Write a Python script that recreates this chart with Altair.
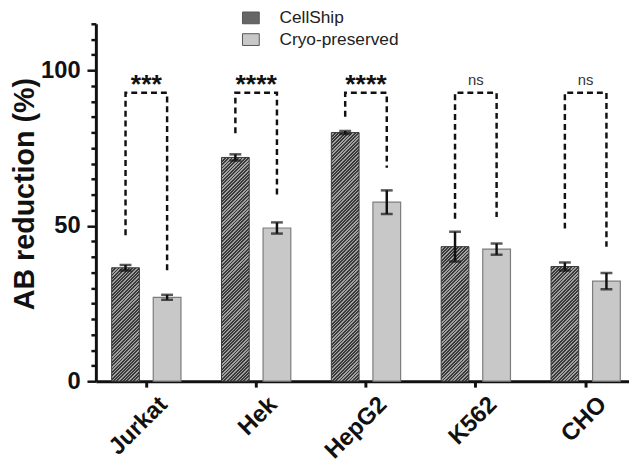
import altair as alt
import pandas as pd

# ---------------- data ----------------
cells = ["Jurkat", "Hek", "HepG2", "K562", "CHO"]
series = ["CellShip", "Cryo-preserved"]
cellship = [36.5, 72.0, 80.0, 43.3, 36.9]
cellship_err = [0.9, 1.0, 0.5, 4.8, 1.3]
cryo = [27.0, 49.3, 57.6, 42.5, 32.2]
cryo_err = [0.8, 1.8, 3.8, 1.8, 2.6]
sig_labels = ["***", "****", "****", "ns", "ns"]
bracket_top = 92.8
bracket_left = [47.0, 79.8, 85.1, 52.3, 49.1]
bracket_right = [34.8, 59.7, 68.7, 52.8, 43.3]
y_ticks = list(range(0, 116, 5))

# ---------------- layout / style ----------------
W, H = 540, 362
YMAX = 115
PI_X, PO_X, AL_X = 0.369, 0.1115, 0.645
PI_O = 0.333
FONT = "Liberation Sans"
INK = "#111111"

step_x = W / (len(cells) - PI_X + 2 * PO_X)
bw_x = step_x * (1 - PI_X)
step_o = bw_x / (2 - PI_O)
bar_w = step_o * (1 - PI_O)

rows = []
for c, v, e in zip(cells, cellship, cellship_err):
    rows.append(dict(cell=c, series=series[0], value=v, lo=v - e, hi=v + e))
for c, v, e in zip(cells, cryo, cryo_err):
    rows.append(dict(cell=c, series=series[1], value=v, lo=v - e, hi=v + e))
df = pd.DataFrame(rows)

br = []
for c, l, r in zip(cells, bracket_left, bracket_right):
    br += [dict(cell=c, series=series[0], val=l, ord=0),
           dict(cell=c, series=series[0], val=bracket_top, ord=1),
           dict(cell=c, series=series[1], val=bracket_top, ord=2),
           dict(cell=c, series=series[1], val=r, ord=3)]
br_df = pd.DataFrame(br)

sig_df = pd.DataFrame(dict(cell=cells, label=sig_labels))


def hatch(v, period=3.4, dark="#3a3a3a", light="#a0a0a0", frac=0.55):
    w = bar_w
    h = v * H / YMAX
    s = w + h
    x2 = s * w / (w * w + h * h)
    y2 = s * h / (w * w + h * h)
    n = s / period
    stops = []
    k = 0
    while k / n < 1:
        t0 = k / n
        t1 = min((k + frac) / n, 1.0)
        t2 = min((k + 1) / n, 1.0)
        stops += [dict(offset=round(t0, 5), color=dark), dict(offset=round(t1, 5), color=dark),
                  dict(offset=round(t1, 5), color=light), dict(offset=round(t2, 5), color=light)]
        k += 1
    return dict(gradient="linear", x1=0, y1=0, x2=x2, y2=y2, stops=stops)


def X():
    return alt.X("cell:N", sort=cells, title=None,
                 scale=alt.Scale(domain=cells, paddingInner=PI_X, paddingOuter=PO_X,
                                 align=AL_X, round=False),
                 axis=alt.Axis(labelAngle=-45))


def XO():
    return alt.XOffset("series:N", sort=series,
                       scale=alt.Scale(domain=series, paddingInner=PI_O, paddingOuter=0, round=False))


def Y(field):
    return alt.Y(field, title="AB reduction (%)",
                 scale=alt.Scale(domain=[0, YMAX], nice=False, zero=True),
                 axis=alt.Axis(values=y_ticks, titleY=172,
                               labelExpr="datum.value % 50 === 0 ? datum.label : ''"))


base = alt.Chart(df)

layers = []
# significance brackets
layers.append(
    alt.Chart(br_df).mark_line(strokeDash=[6, 4], strokeWidth=2.5, color=INK, strokeCap="butt")
    .encode(x=X(), xOffset=XO(), y=Y("val:Q"), detail="cell:N", order="ord:Q")
)
# hatched CellShip bars, one per cell line
for c, v in zip(cells, cellship):
    layers.append(
        base.transform_filter((alt.datum.cell == c) & (alt.datum.series == series[0]))
        .mark_bar(fill=hatch(v), stroke="#383838", strokeWidth=1)
        .encode(x=X(), xOffset=XO(), y=Y("value:Q"))
    )
# cryo-preserved bars (carry the legend)
layers.append(
    base.transform_filter(alt.datum.series == series[1])
    .mark_bar(stroke="#7c7c7c", strokeWidth=1.2)
    .encode(
        x=X(), xOffset=XO(), y=Y("value:Q"),
        fill=alt.Fill("series:N", scale=alt.Scale(domain=series, range=["#666666", "#c8c8c8"]),
                      legend=alt.Legend(title=None, orient="none", legendX=148, legendY=-15,
                                        symbolType="M-1,-0.7H1V0.7H-1Z", symbolSize=289,
                                        symbolStrokeColor="#555555", symbolStrokeWidth=1,
                                        labelFont=FONT, labelFontSize=17.5, labelColor="#222222",
                                        labelOffset=20, rowPadding=4)),
    )
)
# error bars
layers.append(
    base.mark_rule(strokeWidth=2.5, color=INK)
    .encode(x=X(), xOffset=XO(), y=Y("lo:Q"), y2="hi:Q")
)
for f in ["lo", "hi"]:
    layers.append(
        base.mark_tick(thickness=2.5, size=12, color=INK)
        .encode(x=X(), xOffset=XO(), y=Y(f + ":Q"))
    )
# significance labels
layers.append(
    alt.Chart(sig_df).transform_filter(alt.datum.label != "ns")
    .transform_calculate(ypos="92.6")
    .mark_text(font=FONT, fontSize=27, fontWeight="bold", baseline="alphabetic", align="center", color=INK)
    .encode(x=X(), y=Y("ypos:Q"), text="label:N")
)
layers.append(
    alt.Chart(sig_df).transform_filter(alt.datum.label == "ns")
    .transform_calculate(ypos="95.3")
    .mark_text(font=FONT, fontSize=15, baseline="alphabetic", align="center", color="#333333")
    .encode(x=X(), y=Y("ypos:Q"), text="label:N")
)

chart = (
    alt.layer(*layers)
    .properties(width=W, height=H,
                autosize=alt.AutoSizeParams(type="none"),
                padding={"left": 89, "top": 13, "right": 0, "bottom": 92})
    .configure_view(stroke=None)
    .configure_axisX(
        labelAngle=-45, labelAlign="right", labelBaseline="top",
        labelFont=FONT, labelFontSize=24, labelFontWeight="bold", labelColor=INK,
        labelOffset=9, labelPadding=5, tickSize=6, tickWidth=3, tickColor=INK,
        domainWidth=3, domainColor=INK, grid=False, labelLimit=300,
    )
    .configure_axisY(
        tickSize={"condition": {"test": "datum.value % 50 === 0", "value": 9}, "value": 5},
        tickWidth=2.5, tickColor=INK, domainWidth=3, domainColor=INK,
        labelFont=FONT, labelFontSize=24, labelFontWeight="bold", labelColor=INK,
        labelPadding=7, titleFont=FONT, titleFontSize=29, titleFontWeight="bold",
        titleColor=INK, titlePadding=1, grid=False,
    )
)

chart.save("out.html", embed_options={"renderer": "svg", "actions": False})
